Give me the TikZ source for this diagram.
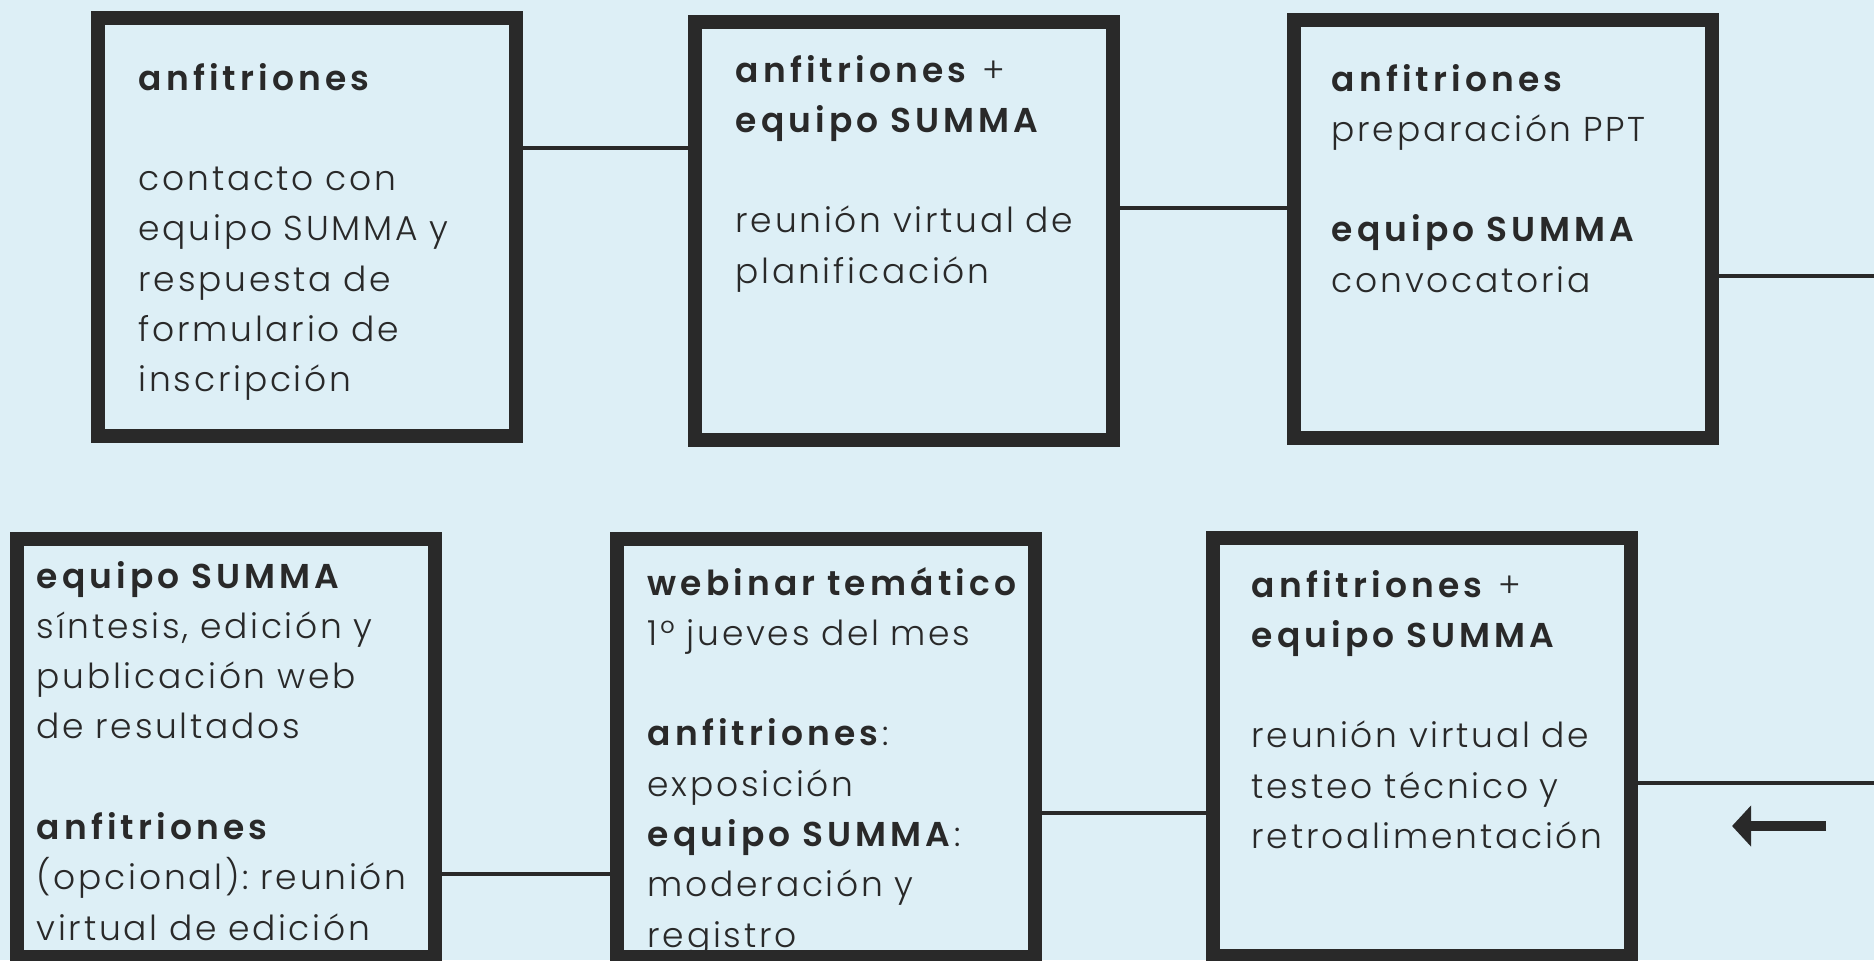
\documentclass[tikz,border=0pt]{standalone}
\usepackage{fontspec}
\setmainfont{Poppins}[UprightFont=* Light, BoldFont=* SemiBold, UprightFeatures={LetterSpace=8}, BoldFeatures={LetterSpace=12}]
\usetikzlibrary{calc,positioning,arrows.meta}
\definecolor{fondo}{RGB}{221,239,246}
\definecolor{tinta}{RGB}{41,41,41}
\frenchspacing
\newcommand\stagefont{\fontsize{9.8}{14.3}\selectfont\spaceskip=0.42em plus 0.1em\relax}

\begin{document}
\begin{tikzpicture}[
  x=0.01cm, y=-0.01cm,
  stage box/.style={
    rectangle,
    fill=fondo,
    line width=0.14cm,
    draw=tinta,
    minimum height=4.18cm, minimum width=4.18cm,
    outer sep=0.07cm
  },
  stage text/.style={
    anchor=base west,
    inner sep=0pt,
    text width=5cm,
    align=left,
    text=tinta,
    font=\stagefont
  },
  link/.style={
    line width=0.035cm,
    draw=tinta
  }
  ]
% background
\fill[fondo] (0,0) rectangle (1874,960);
\useasboundingbox (0,0) rectangle (1874,960);
% Contacto
\node [stage box] (contacto) at (307,227) {};
\node [stage text] (contacto text) at (138,90) {\textbf{anfitriones}\\[\baselineskip]contacto con\\equipo SUMMA y\\respuesta de\\formulario de\\inscripción};
% Planificacion
\node [stage box] (planificacion) at (904,231) {};
\node [stage text] (planificacion text) at (735,82) {\textbf{anfitriones} +\\\textbf{equipo SUMMA}\\[\baselineskip]reunión virtual de\\planificación};
% Preparacion
\node [stage box] (preparacion) at (1503,229) {};
\node [stage text] (preparacion text) at (1331,91) {\textbf{anfitriones}\\preparación PPT\\[\baselineskip]\textbf{equipo SUMMA}\\convocatoria};
% Testeo
\node [stage box] (testeo) at (1422,747) {};
\node [stage text] (testeo text) at (1251,597) {\textbf{anfitriones} +\\\textbf{equipo SUMMA}\\[\baselineskip]reunión virtual de\\testeo técnico y\\retroalimentación};
% Webinar
\node [stage box] (webinar) at (826,748) {};
\node [stage text] (webinar text) at (647,595) {\textbf{webinar temático}\\1º jueves del mes\\[\baselineskip]\textbf{anfitriones}:\\exposición\\\textbf{equipo SUMMA}:\\moderación y\\registro};
% Sintesis
\node [stage box] (sintesis) at (226,748) {};
\node [stage text] (sintesis text) at (36,588) {\textbf{equipo SUMMA}\\síntesis, edición y\\publicación web\\de resultados\\[\baselineskip]\textbf{anfitriones}\\(opcional): reunión\\virtual de edición};
% links
\coordinate (link a) at (0,148);
\coordinate (link b) at (0,208);
\coordinate (link c) at (0,276);
\coordinate (link d) at (0,783);
\coordinate (link e) at (0,813);
\coordinate (link f) at (0,874);
\coordinate (edge c) at (1874,276);
\coordinate (edge d) at (1874,783);
\draw[link] (contacto.east |- link a) -- (planificacion.west |- link a);
\draw[link] (planificacion.east |- link b) -- (preparacion.west |- link b);
\draw[link] (preparacion.east |- link c) -- (edge c);
\draw[link] (testeo.east |- link d) -- (edge d);
\draw[link] (webinar.east |- link e) -- (testeo.west |- link e);
\draw[link] (sintesis.east |- link f) -- (webinar.west |- link f);
% arrow
\coordinate (arrow start) at (1826,826);
\coordinate (arrow end) at (1732,826);
\draw[line width=0.1cm, tinta, -{Triangle[length=0.19cm, width=0.40cm]}] (arrow start) -- (arrow end);
\end{tikzpicture}
\end{document}
